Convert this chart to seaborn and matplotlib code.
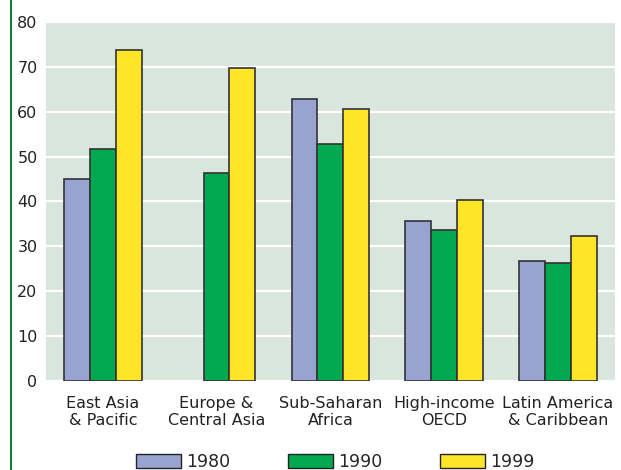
import numpy as np
import pandas as pd
import matplotlib
matplotlib.use("Agg")
import matplotlib.pyplot as plt
import seaborn as sns

# Data
regions = ["East Asia\n& Pacific", "Europe &\nCentral Asia", "Sub-Saharan\nAfrica",
           "High-income\nOECD", "Latin America\n& Caribbean"]
years = ["1980", "1990", "1999"]
v1980 = [45.0, np.nan, 62.8, 35.7, 26.6]
v1990 = [51.7, 46.3, 52.8, 33.7, 26.2]
v1999 = [73.8, 69.8, 60.7, 40.2, 32.3]
colors = ["#99a3d1", "#00a850", "#ffe527"]

df = pd.DataFrame({
    "region": regions * 3,
    "year": [y for y in years for _ in regions],
    "value": v1980 + v1990 + v1999,
})

sns.set_theme(style="white")
plt.rcParams["font.family"] = ["DejaVu Sans"]

fig = plt.figure(figsize=(6.21, 4.70), dpi=100)
ax = fig.add_axes([0.074, 0.19, 0.916, 0.763])
ax.set_facecolor("#d8e6de")

sns.barplot(data=df, x="region", y="value", hue="year", palette=colors,
            saturation=1, width=0.68, edgecolor="#333333", linewidth=1.2, ax=ax,
            legend=False, zorder=3)

ax.set_ylim(0, 80)
ax.set_yticks(range(0, 81, 10))
ax.yaxis.grid(True, color="white", linewidth=1.6, zorder=0)
ax.set_axisbelow(True)
ax.set_xlabel("")
ax.set_ylabel("")
ax.tick_params(axis="both", length=0, labelsize=11.5, colors="#222222")
ax.tick_params(axis="x", pad=11)
ax.tick_params(axis="y", pad=6)
for s in ax.spines.values():
    s.set_visible(False)

# dark green rule at the left edge
fig.add_artist(plt.Line2D([0.018, 0.018], [0, 1], color="#1a7a3a", linewidth=1.5,
                          transform=fig.transFigure))

handles = [plt.Rectangle((0, 0), 1, 1, facecolor=c, edgecolor="#222222", linewidth=1)
           for c in colors]
fig.legend(handles, years, loc="lower center", bbox_to_anchor=(0.54, -0.035), ncol=3,
           frameon=False, fontsize=12.5, handlelength=2.6, handleheight=0.9,
           columnspacing=3.3, handletextpad=0.3)

fig.savefig("out.png", dpi=100)
